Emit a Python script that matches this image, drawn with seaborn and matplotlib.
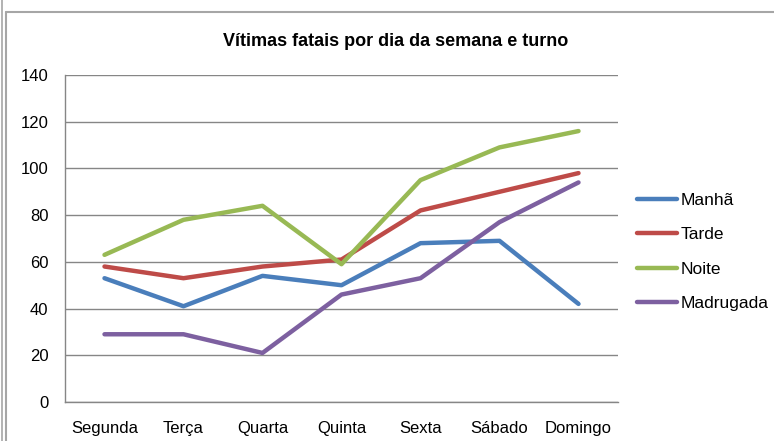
import numpy as np
import pandas as pd
import matplotlib.pyplot as plt
import seaborn as sns
from matplotlib.lines import Line2D

dias = ['Segunda', 'Terça', 'Quarta', 'Quinta', 'Sexta', 'Sábado', 'Domingo']
turnos = ['Manhã', 'Tarde', 'Noite', 'Madrugada']
manha = [53, 41, 54, 50, 68, 69, 42]
tarde = [58, 53, 58, 61, 82, 90, 98]
noite = [63, 78, 84, 59, 95, 109, 116]
madrugada = [29, 29, 21, 46, 53, 77, 94]
cores = ['#4A7EBB', '#BE4B48', '#98B954', '#7D60A0']

if __name__ == "__main__":
    df = pd.DataFrame({'Manhã': manha, 'Tarde': tarde, 'Noite': noite,
                       'Madrugada': madrugada}, index=dias)
    df['pos'] = np.arange(len(dias))
    long = df.melt(id_vars='pos', var_name='turno', value_name='vitimas')

    sns.set_style("white")
    plt.rcParams['font.family'] = ['Liberation Sans', 'DejaVu Sans']
    plt.rcParams['text.color'] = 'black'
    plt.rcParams['xtick.labelcolor'] = 'black'
    plt.rcParams['ytick.labelcolor'] = 'black'

    W, H = 774, 441
    fig = plt.figure(figsize=(W / 100, H / 100), dpi=100)
    ax = fig.add_axes([65 / W, 1 - 402 / H, (618 - 65) / W, (402 - 75) / H])

    sns.lineplot(data=long, x='pos', y='vitimas', hue='turno', hue_order=turnos,
                 palette=cores, linewidth=3.2, ax=ax, legend=False)
    for ln in ax.lines:
        ln.set_solid_capstyle('round')
        ln.set_solid_joinstyle('round')

    ax.set_xlim(-0.5, len(dias) - 0.5)
    ax.set_ylim(0, 140)
    ax.set_yticks(range(0, 141, 20))
    ax.set_xticks(np.arange(len(dias)))
    ax.set_xticklabels(dias)
    ax.set_xticks(np.arange(-0.5, len(dias)), minor=True)
    ax.tick_params(axis='x', which='major', length=0, pad=14, labelsize=12, labelcolor='black')
    ax.tick_params(axis='x', which='minor', length=5, color='#868686', width=1, direction='out')
    ax.tick_params(axis='y', length=5, color='#868686', width=1, direction='out',
                   pad=7, labelsize=12, labelcolor='black')
    ax.yaxis.grid(True, color='#868686', linewidth=1)
    ax.set_axisbelow(True)
    for s in ['top', 'right']:
        ax.spines[s].set_visible(False)
    for s in ['left', 'bottom']:
        ax.spines[s].set_color('#868686')
        ax.spines[s].set_linewidth(1)
    ax.set_xlabel('')
    ax.set_ylabel('')

    fig.text(396 / W, 1 - 42 / H, 'Vítimas fatais por dia da semana e turno',
             ha='center', va='center', fontsize=13, fontweight='bold', color='black')

    handles = [Line2D([0], [0], color=c, lw=3.2, solid_capstyle='round') for c in cores]
    fig.legend(handles, turnos, loc='center left', bbox_to_anchor=(637 / W, 1 - 252 / H),
               frameon=False, fontsize=12.5, handlelength=2.3, handletextpad=0.2,
               labelspacing=1.1, borderaxespad=0, borderpad=0)

    # moldura do gráfico
    fig.add_artist(Line2D([1.5 / W, 1.5 / W], [0, 1], color='#A6A6A6', lw=1.2,
                          transform=fig.transFigure))
    fig.add_artist(Line2D([5.5 / W, 5.5 / W], [0, 1 - 12 / H], color='#A6A6A6', lw=1.5,
                          transform=fig.transFigure))
    fig.add_artist(Line2D([5.5 / W, 1], [1 - 12 / H, 1 - 12 / H], color='#A6A6A6', lw=1.5,
                          transform=fig.transFigure))

    plt.savefig('out.png', dpi=100)
